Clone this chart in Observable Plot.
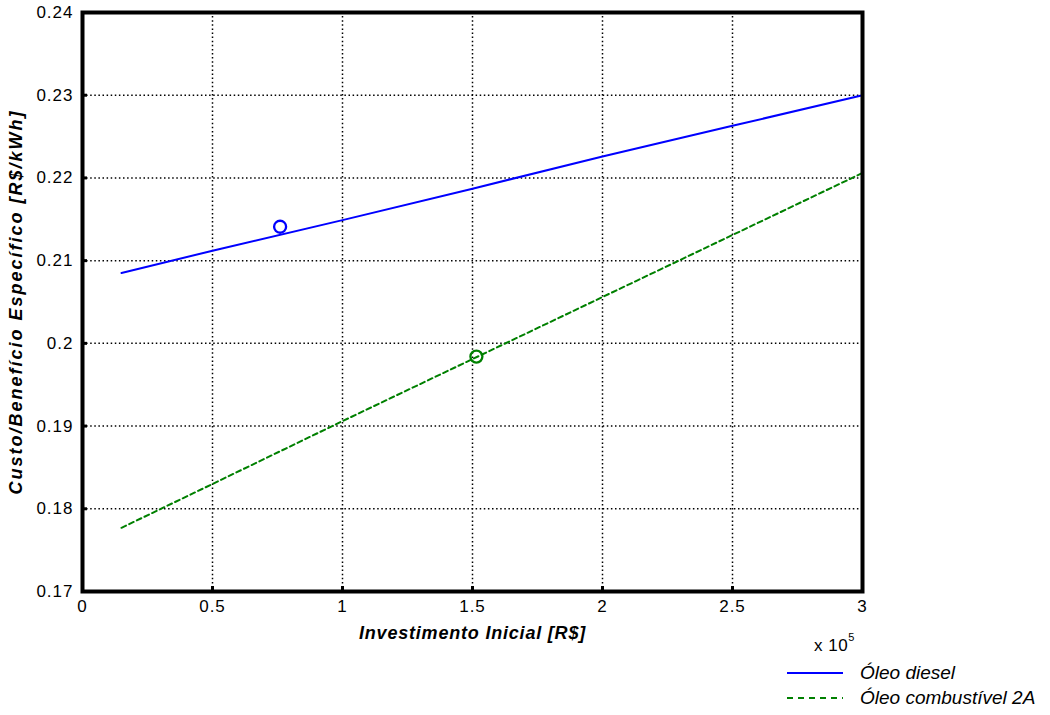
<!DOCTYPE html>
<html>
<head>
<meta charset="utf-8">
<script src="https://cdn.jsdelivr.net/npm/d3@7"></script>
<script src="https://cdn.jsdelivr.net/npm/@observablehq/plot@0.6"></script>
<style>
  html, body { margin: 0; padding: 0; background: #fff; }
  #wrap { position: relative; width: 1050px; height: 715px; font-family: "Liberation Sans", Arial, sans-serif; }
  #wrap > svg { position: absolute; left: 0; top: 0; }
  #wrap > svg text { font-size: 17px; letter-spacing: 1px; }
  #wrap > svg g[aria-label="x-axis label"] text { font-weight: bold; font-style: italic; font-size: 18px; letter-spacing: 0.8px; }
  #wrap > svg g[aria-label="y-axis label"] text { font-weight: bold; font-style: italic; font-size: 18px; letter-spacing: 2px; }
  .mult { position: absolute; left: 814px; top: 634px; font-size: 17px; color: #000; letter-spacing: 0.5px; }
  .mult sup { font-size: 11px; position: relative; top: -3px; }
  .legend { position: absolute; left: 787px; top: 660px; font-family: "Liberation Sans Narrow", "Arial Narrow", "Liberation Sans", sans-serif; font-style: italic; font-size: 19px; }
  .legend .row { display: flex; align-items: center; height: 25px; }
  .legend svg { display: block; margin-right: 17px; }
</style>
</head>
<body>
<div id="wrap"></div>
<script>
// Data (x in R$, y in R$/kWh)
const dieselX = [15000, 50000, 100000, 150000, 200000, 250000, 300000];
const dieselY = [0.2085, 0.2112, 0.2149, 0.2187, 0.2226, 0.2263, 0.2300];
const oleo2AX = [15000, 50000, 100000, 150000, 200000, 250000, 300000];
const oleo2AY = [0.1777, 0.1830, 0.1906, 0.1981, 0.2056, 0.2131, 0.2206];
const pointX = [76000, 151500];
const pointY = [0.2141, 0.1984];
const pointSeries = ["Óleo diesel", "Óleo combustível 2A"];
const xTicks = [0, 50000, 100000, 150000, 200000, 250000, 300000];
const yTicks = [0.17, 0.18, 0.19, 0.20, 0.21, 0.22, 0.23, 0.24];
const seriesNames = ["Óleo diesel", "Óleo combustível 2A"];
const colors = ["#0000ff", "#008000"];

const diesel = dieselX.map((x, i) => ({x, y: dieselY[i]}));
const oleo2A = oleo2AX.map((x, i) => ({x, y: oleo2AY[i]}));
const points = pointX.map((x, i) => ({x, y: pointY[i], s: pointSeries[i]}));

const fmtYT = d => String(+d.toFixed(2));

const chart = Plot.plot({
  width: 1050,
  height: 715,
  marginLeft: 82,
  marginRight: 188,
  marginTop: 12,
  marginBottom: 124,
  style: { fontFamily: "'Liberation Sans', Arial, sans-serif", fontSize: "17px", color: "#000", background: "#fff" },
  x: { domain: [0, 300000] },
  y: { domain: [0.17, 0.24] },
  color: { domain: seriesNames, range: colors },
  marks: [
    Plot.gridX(xTicks.slice(1, -1), { stroke: "#000", strokeOpacity: 1, strokeWidth: 1.5, strokeDasharray: "1.5,2.6" }),
    Plot.gridY(yTicks.slice(1, -1), { stroke: "#000", strokeOpacity: 1, strokeWidth: 1.5, strokeDasharray: "1.5,2.6" }),
    Plot.line(diesel, { x: "x", y: "y", stroke: colors[0], strokeWidth: 2 }),
    Plot.line(oleo2A, { x: "x", y: "y", stroke: colors[1], strokeWidth: 2, strokeDasharray: "5,3.5" }),
    Plot.dot(points, { x: "x", y: "y", stroke: "s", r: 6, strokeWidth: 2.3, fill: "none" }),
    Plot.axisX(xTicks, { tickSize: -5, strokeWidth: 3, tickPadding: 13, tickFormat: d => String(d / 1e5),
      label: "Investimento Inicial [R$]", labelAnchor: "center", labelArrow: "none", labelOffset: 47, fontSize: 17 }),
    Plot.axisY(yTicks, { tickSize: -5, strokeWidth: 3, tickPadding: 14, tickFormat: fmtYT,
      label: "Custo/Benefício Específico [R$/kWh]", labelAnchor: "center", labelArrow: "none", labelOffset: 73, fontSize: 17 }),
    Plot.frame({ stroke: "#000", strokeWidth: 4 })
  ]
});

const wrap = document.getElementById("wrap");
wrap.appendChild(chart);

const mult = document.createElement("div");
mult.className = "mult";
mult.innerHTML = "x 10<sup>5</sup>";
wrap.appendChild(mult);

const legend = document.createElement("div");
legend.className = "legend";
seriesNames.forEach((name, i) => {
  const row = document.createElement("div");
  row.className = "row";
  const dash = i === 1 ? ' stroke-dasharray="6,5"' : '';
  row.innerHTML = `<svg width="56" height="6"><line x1="0" y1="3" x2="56" y2="3" stroke="${colors[i]}" stroke-width="2"${dash}/></svg><span>${name}</span>`;
  legend.appendChild(row);
});
wrap.appendChild(legend);
</script>
</body>
</html>
